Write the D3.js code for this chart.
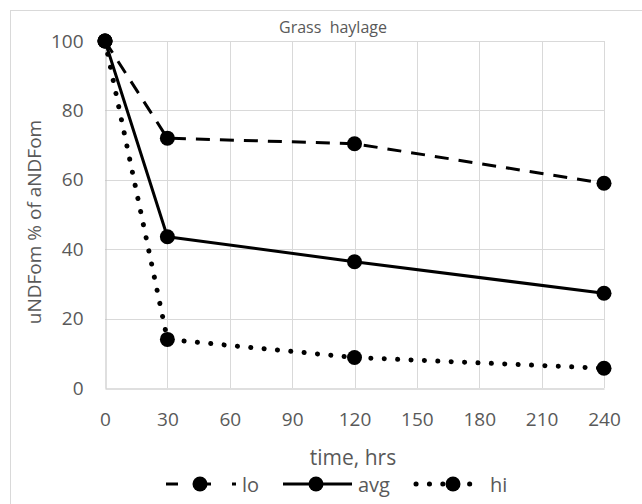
<!DOCTYPE html>
<html><head><meta charset="utf-8">
<script src="https://cdn.jsdelivr.net/npm/d3@7"></script>
<style>body{margin:0;background:#fff;} text{font-family:"Open Sans","Noto Sans",sans-serif;}</style>
</head><body><svg id="c" width="642" height="504"></svg>
<script>
const times = [0, 30, 120, 240];
const loValues = [100, 72, 70.4, 59];
const avgValues = [100, 43.6, 36.4, 27.3];
const hiValues = [100, 14, 8.8, 5.7];
const seriesNames = ["lo", "avg", "hi"];
const xTicks = [0, 30, 60, 90, 120, 150, 180, 210, 240];
const yTicks = [0, 20, 40, 60, 80, 100];
const title = "Grass  haylage";
const xTitle = "time, hrs";
const yTitle = "uNDFom % of aNDFom";

const svg = d3.select("#c");
const m = {l:105, r:604, t:41, b:388};
const x = d3.scaleLinear().domain([0,240]).range([m.l, m.r]);
const y = d3.scaleLinear().domain([0,100]).range([m.b, m.t]);

svg.append("rect").attr("x",10.5).attr("y",10.5).attr("width",640).attr("height",500)
  .attr("fill","#fff").attr("stroke","#d9d9d9").attr("stroke-width",1);

// gridlines
svg.append("g").selectAll("line").data(yTicks.filter(d=>d>0)).join("line")
  .attr("x1",m.l).attr("x2",m.r).attr("y1",d=>Math.round(y(d))+0.5).attr("y2",d=>Math.round(y(d))+0.5)
  .attr("stroke","#d9d9d9").attr("stroke-width",1);
svg.append("g").selectAll("line").data(xTicks.filter(d=>d>0)).join("line")
  .attr("y1",m.t).attr("y2",m.b).attr("x1",d=>Math.round(x(d))+0.5).attr("x2",d=>Math.round(x(d))+0.5)
  .attr("stroke","#d9d9d9").attr("stroke-width",1);

// axes
const xAxis = d3.axisBottom(x).tickValues(xTicks).tickSize(0).tickPadding(24);
const gx = svg.append("g").attr("transform",`translate(0,${Math.round(m.b)+0.5})`).call(xAxis);
gx.select(".domain").attr("stroke","#bfbfbf");
gx.selectAll("text").attr("fill","#595959").style("font-size","19px").style("font-family","'Open Sans'");
const yAxis = d3.axisLeft(y).tickValues(yTicks).tickSize(0).tickPadding(22);
const gy = svg.append("g").attr("transform",`translate(${Math.round(m.l)+0.5},0)`).call(yAxis);
gy.select(".domain").attr("stroke","#bfbfbf");
gy.selectAll("text").attr("fill","#595959").style("font-size","19px").style("font-family","'Open Sans'");

// titles
svg.append("text").attr("x",333).attr("y",33).attr("text-anchor","middle")
  .attr("fill","#595959").style("font-size","16px").style("white-space","pre").text(title);
svg.append("text").attr("x",353).attr("y",465).attr("text-anchor","middle")
  .attr("fill","#595959").style("font-size","21px").text(xTitle);
svg.append("text").attr("transform","translate(41,222) rotate(-90)").attr("text-anchor","middle")
  .attr("fill","#595959").style("font-size","19px").text(yTitle);

const styles = {
  lo: {dash:"14 10", width:3, cap:"butt"},
  avg: {dash:null, width:3, cap:"butt"},
  hi: {dash:"0.1 13.3", width:5, cap:"round"}
};
const seriesData = [loValues, avgValues, hiValues];
const line = d3.line().x((d,i)=>x(times[i])).y(d=>y(d));

seriesNames.forEach((name,k)=>{
  const st = styles[name];
  svg.append("path").datum(seriesData[k]).attr("d",line)
    .attr("fill","none").attr("stroke","#000").attr("stroke-width",st.width)
    .attr("stroke-linecap",st.cap).attr("stroke-linejoin","round")
    .attr("stroke-dasharray",st.dash);
});
seriesNames.forEach((name,k)=>{
  svg.append("g").selectAll("circle").data(seriesData[k]).join("circle")
    .attr("cx",(d,i)=>x(times[i])).attr("cy",d=>y(d)).attr("r",7.5).attr("fill","#000");
});

// legend
const legend = [
  {name:"lo", x1:166, x2:236, mx:200, tx:242},
  {name:"avg", x1:283, x2:352, mx:316, tx:358},
  {name:"hi", x1:416, x2:475, mx:453, tx:490}
];
const ly = 484;
legend.forEach(l=>{
  const st = styles[l.name];
  svg.append("line").attr("x1",l.x1).attr("x2",l.x2).attr("y1",ly).attr("y2",ly)
    .attr("stroke","#000").attr("stroke-width",st.width).attr("stroke-linecap",st.cap)
    .attr("stroke-dasharray",l.name==="lo"?"12 21":st.dash);
  svg.append("circle").attr("cx",l.mx).attr("cy",ly).attr("r",7.5).attr("fill","#000");
  svg.append("text").attr("x",l.tx).attr("y",ly+8).attr("fill","#595959")
    .style("font-size","20px").text(l.name);
});
</script></body></html>
